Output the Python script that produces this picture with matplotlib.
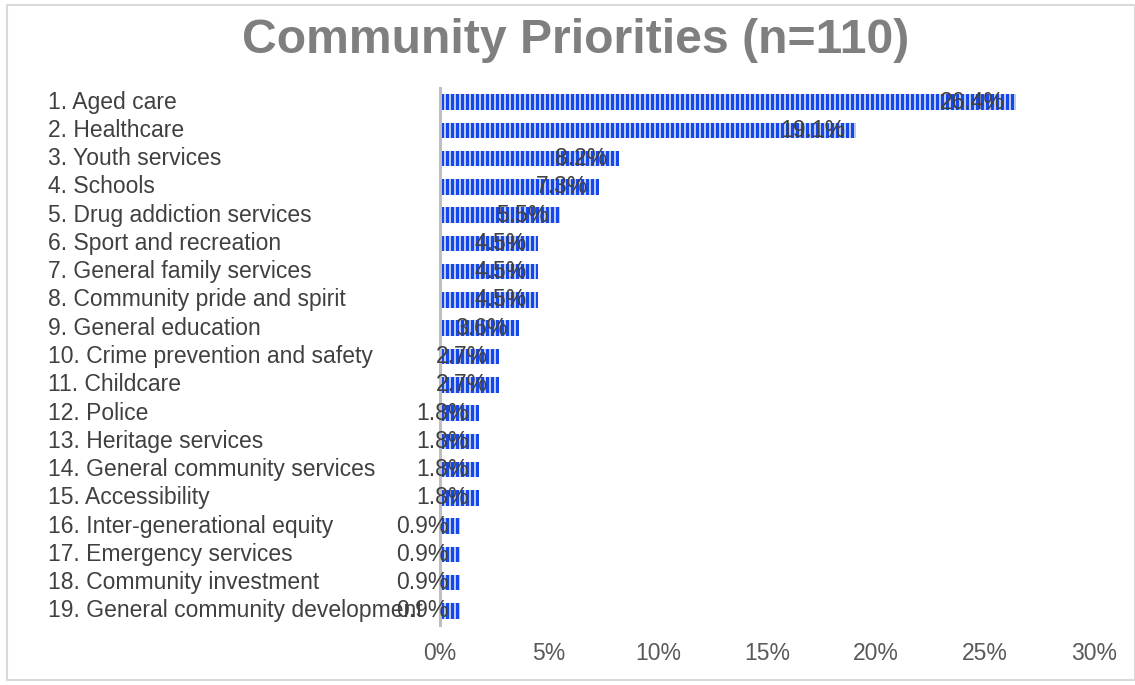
import matplotlib

matplotlib.use("Agg")
import matplotlib.pyplot as plt
from matplotlib.patches import Rectangle
from matplotlib.transforms import blended_transform_factory


CATEGORIES = [
    "1. Aged care",
    "2. Healthcare",
    "3. Youth services",
    "4. Schools",
    "5. Drug addiction services",
    "6. Sport and recreation",
    "7. General family services",
    "8. Community pride and spirit",
    "9. General education",
    "10. Crime prevention and safety",
    "11. Childcare",
    "12. Police",
    "13. Heritage services",
    "14. General community services",
    "15. Accessibility",
    "16. Inter-generational equity",
    "17. Emergency services",
    "18. Community investment",
    "19. General community development",
]
VALUES = [26.4, 19.1, 8.2, 7.3, 5.5, 4.5, 4.5, 4.5, 3.6, 2.7, 2.7,
          1.8, 1.8, 1.8, 1.8, 0.9, 0.9, 0.9, 0.9]
X_TICKS = [0, 5, 10, 15, 20, 25, 30]

# dpi chosen so the hatch stripes come out 5 px apart (24 lines per inch)
DPI = 120
S = 100 / DPI

plt.rcParams["font.family"] = ["Liberation Sans", "DejaVu Sans"]
plt.rcParams["hatch.linewidth"] = 1.9

fig = plt.figure(figsize=(1135 / DPI, 685 / DPI), dpi=DPI)
ax = fig.add_axes([0.3877, 0.0876, 0.9639 - 0.3877, 0.8715 - 0.0876])

y = list(range(len(CATEGORIES)))
ax.barh(y, VALUES, height=0.55, facecolor="#c9d6f6", edgecolor="#1447ec",
        linewidth=0, hatch="||||")

ax.set_xlim(0, 30)
ax.set_ylim(len(CATEGORIES) - 0.5, -0.5)
ax.set_xticks(X_TICKS)
ax.set_xticklabels([f"{t}%" for t in X_TICKS], fontsize=16.5 * S, color="#595959")
ax.set_yticks([])
ax.tick_params(axis="x", length=0, pad=12 * S)
for side in ["top", "right", "bottom"]:
    ax.spines[side].set_visible(False)
ax.spines["left"].set_color("#bfbfbf")
ax.spines["left"].set_linewidth(2.2 * S)

trans = blended_transform_factory(fig.transFigure, ax.transData)
for i, name in enumerate(CATEGORIES):
    ax.text(48 / 1135, i, name, transform=trans, ha="left", va="center",
            fontsize=16.5 * S, color="#404040")

for i, v in enumerate(VALUES):
    ax.annotate(f"{v:.1f}%", (v, i), xytext=(-8 * S, 0), textcoords="offset points",
                ha="right", va="center", fontsize=16.5 * S, color="#404040")

fig.text(575.5 / 1135, 0.941, "Community Priorities (n=110)", ha="center", va="center",
         fontsize=34.7 * S, fontweight="bold", color="#7f7f7f")

fig.patches.append(Rectangle((7 / 1135, 5 / 685), 1 - 7 / 1135, 1 - 10 / 685,
                             transform=fig.transFigure, fill=False,
                             edgecolor="#d9d9d9", linewidth=1.5 * S))

fig.savefig("out.png", dpi=DPI)
